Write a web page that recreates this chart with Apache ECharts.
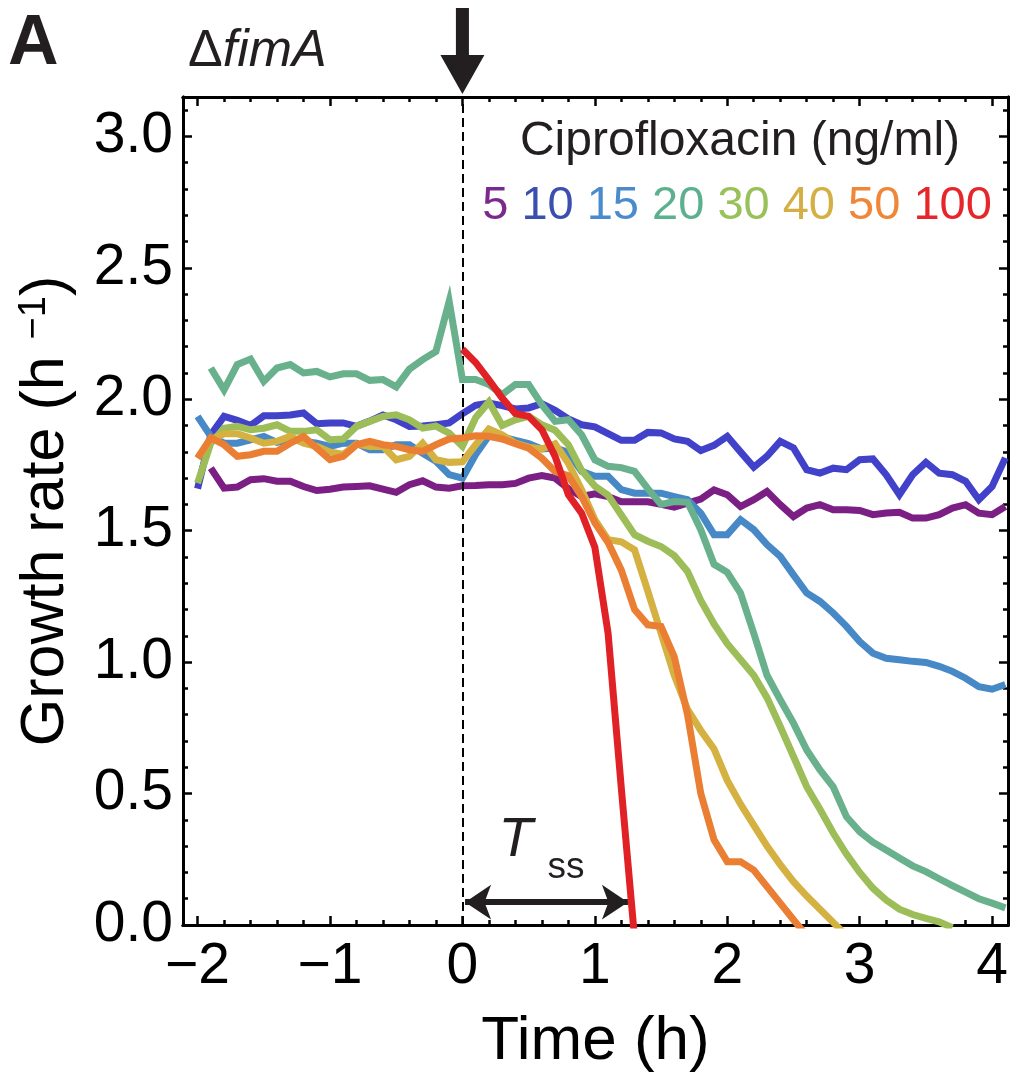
<!DOCTYPE html>
<html>
<head>
<meta charset="utf-8">
<script src="https://cdn.jsdelivr.net/npm/echarts@6/dist/echarts.min.js"></script>
<style>
html,body{margin:0;padding:0;background:#fff;}
#main{width:1014px;height:1078px;}
</style>
</head>
<body>
<div id="main"></div>
<script>
// ---- data ----
const times = [-2.0,-1.9,-1.8,-1.7,-1.6,-1.5,-1.4,-1.3,-1.2,-1.1,-1.0,-0.9,-0.8,-0.7,-0.6,-0.5,-0.4,-0.3,-0.2,-0.1,
  0.0,0.1,0.2,0.3,0.4,0.5,0.6,0.7,0.8,0.9,1.0,1.1,1.2,1.3,1.4,1.5,1.6,1.7,1.8,1.9,
  2.0,2.1,2.2,2.3,2.4,2.5,2.6,2.7,2.8,2.9,3.0,3.1,3.2,3.3,3.4,3.5,3.6,3.7,3.8,3.9,4.0,4.1];

const cipro5 = [null,1.738,1.662,1.666,1.694,1.698,1.688,1.688,1.668,1.653,1.658,1.666,1.668,1.671,1.658,1.646,1.675,1.690,1.666,1.662,
  1.671,1.672,1.675,1.675,1.68,1.70,1.71,1.70,1.66,1.63,1.64,1.63,1.61,1.61,1.61,1.60,1.59,1.605,1.62,1.655,
  1.637,1.592,1.618,1.649,1.599,1.554,1.586,1.599,1.58,1.58,1.577,1.561,1.567,1.57,1.548,1.548,1.561,1.586,1.599,1.567,1.561,1.592];

const cipro10 = [1.66,1.865,1.935,1.92,1.90,1.937,1.937,1.94,1.948,1.907,1.91,1.91,1.897,1.917,1.94,1.922,1.897,1.898,1.903,1.91,
  1.945,1.977,1.986,1.976,1.963,1.967,1.983,1.958,1.925,1.903,1.895,1.869,1.844,1.844,1.874,1.872,1.849,1.84,1.805,1.825,
  1.859,1.80,1.742,1.783,1.84,1.815,1.732,1.719,1.738,1.732,1.77,1.773,1.713,1.637,1.713,1.76,1.719,1.713,1.688,1.618,1.668,1.777];

const cipro15 = [1.935,1.859,1.833,1.833,1.846,1.859,1.836,1.846,1.84,1.833,1.821,1.833,1.833,1.808,1.808,1.827,1.827,1.795,1.764,1.713,
  1.70,1.79,1.861,1.857,1.844,1.831,1.811,1.815,1.798,1.726,1.707,1.707,1.656,1.643,1.643,1.643,1.630,1.618,1.567,1.485,
  1.485,1.542,1.504,1.447,1.402,1.332,1.263,1.231,1.187,1.136,1.078,1.034,1.015,1.009,1.003,0.999,0.984,0.965,0.939,0.907,0.897,0.915];

const cipro20 = [null,2.119,2.036,2.132,2.153,2.068,2.119,2.132,2.10,2.106,2.085,2.097,2.097,2.072,2.075,2.047,2.115,2.151,2.182,2.373,
  2.075,2.075,2.056,2.018,2.056,2.056,1.979,1.916,1.922,1.865,1.770,1.745,1.740,1.726,1.660,1.600,1.611,1.608,1.504,1.372,
  1.342,1.263,1.110,0.950,0.857,0.768,0.666,0.590,0.526,0.412,0.355,0.315,0.285,0.255,0.225,0.203,0.176,0.150,0.125,0.100,0.083,0.065];

const cipro30 = [1.681,1.833,1.890,1.897,1.884,1.890,1.903,1.878,1.878,1.884,1.846,1.849,1.897,1.916,1.935,1.941,1.922,1.89,1.898,1.871,
  1.821,1.93,1.99,1.90,1.922,1.935,1.903,1.882,1.827,1.73,1.67,1.635,1.56,1.485,1.46,1.44,1.405,1.345,1.235,1.145,
  1.07,1.01,0.95,0.865,0.755,0.641,0.526,0.44,0.35,0.27,0.20,0.14,0.095,0.06,0.04,0.025,0.012,-0.01,null,null,null,null];

const cipro40 = [1.776,1.846,1.869,1.869,1.853,1.833,1.84,1.859,1.833,1.821,1.80,1.79,1.83,1.82,1.82,1.77,1.783,1.833,1.77,1.76,
  1.762,1.827,1.887,1.865,1.833,1.818,1.811,1.831,1.757,1.656,1.542,1.466,1.458,1.427,1.27,1.11,0.95,0.82,0.74,0.67,
  0.55,0.46,0.38,0.30,0.23,0.165,0.11,0.06,0.01,-0.04,null,null,null,null,null,null,null,null,null,null,null,null];

const cipro50 = [1.776,1.853,1.827,1.783,1.789,1.802,1.802,1.833,1.859,1.814,1.77,1.783,1.827,1.84,1.827,1.821,1.808,1.802,1.827,1.849,
  1.853,1.861,1.859,1.849,1.831,1.814,1.776,1.725,1.709,1.63,1.53,1.455,1.35,1.20,1.142,1.136,1.02,0.80,0.50,0.324,
  0.241,0.241,0.209,0.146,0.083,0.02,-0.04,null,null,null,null,null,null,null,null,null,null,null,null,null,null,null];

const cipro100 = [null,null,null,null,null,null,null,null,null,null,null,null,null,null,null,null,null,null,null,null,
  2.19,2.14,2.074,2.005,1.946,1.935,1.884,1.783,1.637,1.567,1.437,1.11,0.52,-0.05,null,null,null,null,null,null,
  null,null,null,null,null,null,null,null,null,null,null,null,null,null,null,null,null,null,null,null,null,null];

const doseLabels = ['5','10','15','20','30','40','50','100'];
const xMajor = [-2,-1,0,1,2,3,4];
const xMinor = [-2,-1.8,-1.6,-1.4,-1.2,-1,-0.8,-0.6,-0.4,-0.2,0,0.2,0.4,0.6,0.8,1,1.2,1.4,1.6,1.8,2,2.2,2.4,2.6,2.8,3,3.2,3.4,3.6,3.8,4];
const yMajor = [0,0.5,1,1.5,2,2.5,3];
const yMinor = [0,0.1,0.2,0.3,0.4,0.5,0.6,0.7,0.8,0.9,1,1.1,1.2,1.3,1.4,1.5,1.6,1.7,1.8,1.9,2,2.1,2.2,2.3,2.4,2.5,2.6,2.7,2.8,2.9,3,3.1];
const tss = [0.02, 1.25];      // steady-state time arrow span (h)
const tssY = 0.087;            // height of the T_ss arrow

// ---- styling ----
const lineColors = ['#7b1f84','#4141c9','#4789c6','#69b18d','#9dbd59','#d5b142','#ea7f33','#e02227'];
const labelColors = ['#7a2a8c','#3b4fae','#4a8ccb','#5bb08f','#98c15a','#d3b043','#ef8638','#e6262b'];
const SANS = "'Liberation Sans',Arial,Helvetica,sans-serif";
const INK = '#000';

const chart = echarts.init(document.getElementById('main'), null, {renderer: 'canvas'});

const seriesVals = [cipro5, cipro10, cipro15, cipro20, cipro30, cipro40, cipro50, cipro100];
const series = seriesVals.map((vals, k) => ({
  type: 'line',
  name: doseLabels[k],
  xAxisIndex: 0, yAxisIndex: 0,
  data: times.map((t, i) => vals[i] == null ? null : [t, vals[i]]).filter(Boolean),
  showSymbol: false, symbol: 'none',
  clip: true,
  lineStyle: {color: lineColors[k], width: 7, join: 'miter'},
  itemStyle: {color: lineColors[k]},
  animation: false,
  z: 2 + k
}));

// dashed line at t = 0 (on the first series so curves draw over it)
series[0].markLine = {
  silent: true, symbol: 'none', animation: false,
  label: {show: false},
  lineStyle: {color: INK, width: 2, type: [9, 5]},
  data: [{xAxis: 0}]
};
// T_ss double arrow on the top-most series
series[7].markLine = {
  silent: true, animation: false,
  symbol: ['arrow', 'arrow'], symbolSize: [26, 26],
  label: {show: false},
  lineStyle: {color: '#231f20', width: 6, type: 'solid'},
  data: [[{coord: [tss[0], tssY]}, {coord: [tss[1], tssY]}]]
};

function xFmt(v) { return v < 0 ? '\u2212' + Math.abs(v) : String(v); }
const XMIN = -2.11, XMAX = 4.12, YMIN = 0, YMAX = 3.15;

function xAx(pos, ticks, len, withLabels) {
  return {
    type: 'value', min: XMIN, max: XMAX, position: pos,
    axisLine: {show: true, onZero: false, lineStyle: {color: INK, width: 3}},
    splitLine: {show: false},
    axisTick: {show: true, inside: true, length: len, customValues: ticks, lineStyle: {color: INK, width: 2.5}},
    axisLabel: withLabels ? {show: true, customValues: xMajor, formatter: xFmt, fontSize: 57, fontFamily: SANS, color: INK, margin: 14}
                          : {show: false}
  };
}
function yAx(pos, ticks, len, withLabels) {
  return {
    type: 'value', min: YMIN, max: YMAX, position: pos,
    axisLine: {show: true, onZero: false, lineStyle: {color: INK, width: 3}},
    splitLine: {show: false},
    axisTick: {show: true, inside: true, length: len, customValues: ticks, lineStyle: {color: INK, width: 2.5}},
    axisLabel: withLabels ? {show: true, customValues: yMajor, formatter: v => v.toFixed(1), fontSize: 57, fontFamily: SANS, color: INK, margin: 10}
                          : {show: false}
  };
}

const xMain = xAx('bottom', xMajor, 9, true);
xMain.name = 'Time (h)';
xMain.nameLocation = 'middle';
xMain.nameGap = 86;
xMain.nameTextStyle = {fontSize: 62, fontFamily: SANS, color: INK};

const yMain = yAx('left', yMajor, 9, true);
yMain.name = '{n|Growth rate (h }{s|\u22121}{n|)}';
yMain.nameLocation = 'middle';
yMain.nameGap = 106;
yMain.nameTextStyle = {
  fontSize: 61, fontFamily: SANS, color: INK,
  rich: {
    n: {fontSize: 61, fontFamily: SANS, color: INK},
    s: {fontSize: 38, fontFamily: SANS, color: INK, verticalAlign: 'top'}
  }
};

chart.setOption({
  animation: false,
  backgroundColor: '#fff',
  grid: {left: 183, right: 6, top: 97, bottom: 153, containLabel: false},
  xAxis: [xMain, xAx('bottom', xMinor, 5, false), xAx('top', xMajor, 9, false), xAx('top', xMinor, 5, false)],
  yAxis: [yMain, yAx('left', yMinor, 5, false), yAx('right', yMajor, 9, false), yAx('right', yMinor, 5, false)],
  series: series
});

// ---- annotations positioned from the axes ----
const x0 = chart.convertToPixel({xAxisIndex: 0}, 0);
const yTop = chart.convertToPixel({yAxisIndex: 0}, YMAX);

const richNums = doseLabels.map((d, k) => '{c' + k + '|' + d + '}').join(' ');
const richStyles = {};
labelColors.forEach((c, k) => { richStyles['c' + k] = {fill: c, fontSize: 47, fontFamily: SANS}; });

chart.setOption({
  graphic: [
    {type: 'text', left: 8, top: 10, style: {text: 'A', font: 'bold 70px ' + SANS, fill: '#231f20'}},
    {type: 'text', x: 188, y: 52, style: {
      text: '{u|\u0394}{i|fimA}', fill: '#231f20', verticalAlign: 'middle',
      rich: {u: {fontSize: 52, fontFamily: SANS, fill: '#231f20'},
             i: {fontSize: 52, fontFamily: SANS, fontStyle: 'italic', fill: '#231f20'}}
    }},
    {type: 'polygon', shape: {points: [[x0 - 6.5, 8], [x0 + 6.5, 8], [x0 + 6.5, 55], [x0 + 22, 55], [x0, yTop - 3], [x0 - 22, 55], [x0 - 6.5, 55]]},
      style: {fill: '#231f20'}},
    {type: 'text', x: 740, y: 142, style: {text: 'Ciprofloxacin (ng/ml)', font: '48px ' + SANS, fill: '#231f20', align: 'center', verticalAlign: 'middle'}},
    {type: 'text', x: 737, y: 206, style: {text: richNums, fontSize: 47, fontFamily: SANS, fill: '#231f20', align: 'center', verticalAlign: 'middle', rich: richStyles}},
    {type: 'text', x: x0 + 36, y: 840, style: {text: 'T', font: 'italic 56px ' + SANS, fill: '#231f20', verticalAlign: 'middle'}},
    {type: 'text', x: x0 + 85, y: 868, style: {text: 'ss', font: '37px ' + SANS, fill: '#231f20', verticalAlign: 'middle'}}
  ]
});
</script>
</body>
</html>
